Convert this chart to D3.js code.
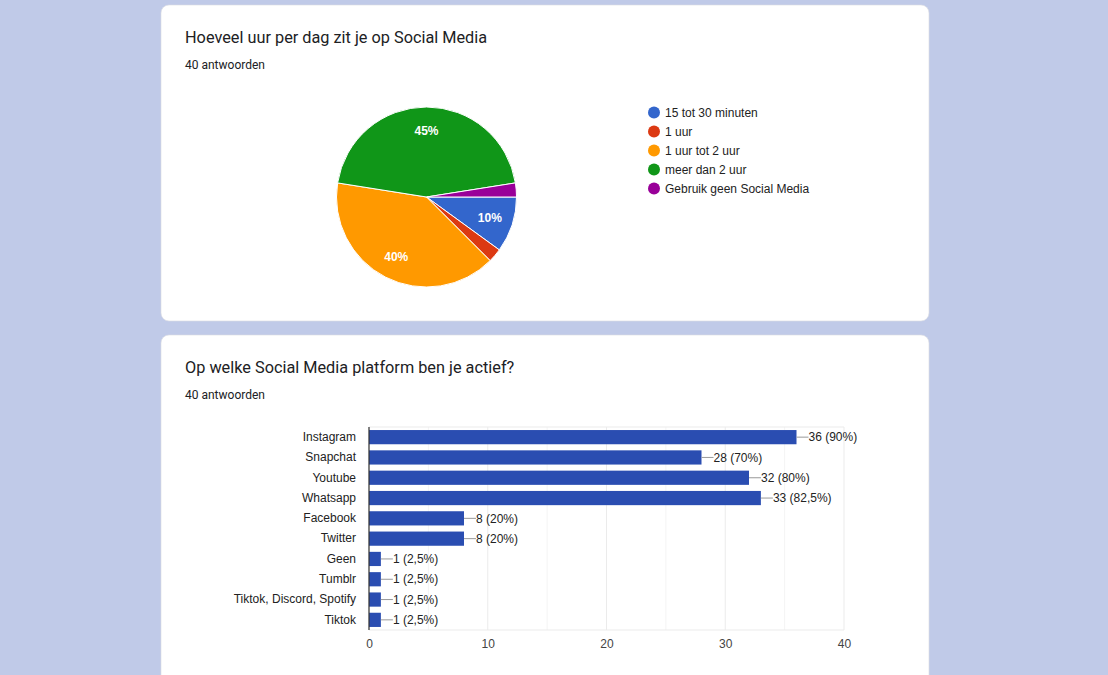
<!DOCTYPE html>
<html><head><meta charset="utf-8">
<script src="https://cdn.jsdelivr.net/npm/d3@7"></script>
<style>
html,body{margin:0;padding:0;background:#c0cae8;}
svg{display:block;}
</style></head>
<body>
<svg id="c" width="1108" height="675"></svg>
<script>
// Pie data
const pieTitle = "Hoeveel uur per dag zit je op Social Media";
const pieCount = "40 antwoorden";
const pieCategories = ["15 tot 30 minuten", "1 uur", "1 uur tot 2 uur", "meer dan 2 uur", "Gebruik geen Social Media"];
const pieValues = [4, 1, 16, 18, 1];
const pieColors = ["#3366cc", "#dc3912", "#ff9900", "#109618", "#990099"];

// Bar data
const barTitle = "Op welke Social Media platform ben je actief?";
const barCount = "40 antwoorden";
const barCategories = ["Instagram", "Snapchat", "Youtube", "Whatsapp", "Facebook", "Twitter", "Geen", "Tumblr", "Tiktok, Discord, Spotify", "Tiktok"];
const barValues = [36, 28, 32, 33, 8, 8, 1, 1, 1, 1];
const barLabels = ["36 (90%)", "28 (70%)", "32 (80%)", "33 (82,5%)", "8 (20%)", "8 (20%)", "1 (2,5%)", "1 (2,5%)", "1 (2,5%)", "1 (2,5%)"];
const barTicks = [0, 10, 20, 30, 40];

(function () {
const svg = d3.select("#c");

// cards
svg.append("rect").attr("x", 161).attr("y", 5).attr("width", 768).attr("height", 316).attr("rx", 8).attr("fill", "#fff").attr("stroke", "#dadce0").attr("stroke-width", 0.6);
svg.append("rect").attr("x", 161).attr("y", 335).attr("width", 768).attr("height", 360).attr("rx", 8).attr("fill", "#fff").attr("stroke", "#dadce0").attr("stroke-width", 0.6);

function header(y, title, count) {
  svg.append("text").attr("x", 185).attr("y", y).text(title)
    .attr("font-family", "Roboto, 'Open Sans', sans-serif").attr("font-size", 16.3).attr("fill", "#202124");
  svg.append("text").attr("x", 185).attr("y", y + 26).text(count)
    .attr("font-family", "Roboto, sans-serif").attr("font-size", 12).attr("fill", "#202124");
}
header(43, pieTitle, pieCount);
header(373, barTitle, barCount);

// Pie
const cx = 426.5, cy = 197, r = 90;
const pie = d3.pie().sort(null).value(d => d).startAngle(Math.PI / 2).endAngle(Math.PI / 2 + 2 * Math.PI);
const arcs = pie(pieValues);
const arc = d3.arc().innerRadius(0).outerRadius(r);
const g = svg.append("g").attr("transform", `translate(${cx},${cy})`);
g.selectAll("path").data(arcs).join("path")
  .attr("d", arc).attr("fill", (d, i) => pieColors[i]).attr("stroke", "#fff").attr("stroke-width", 1);
const labelArc = d3.arc().innerRadius(r * 0.74).outerRadius(r * 0.74);
const total = d3.sum(pieValues);
g.selectAll("text").data(arcs.filter(d => d.value / total >= 0.05)).join("text")
  .attr("transform", d => `translate(${labelArc.centroid(d)})`)
  .attr("text-anchor", "middle").attr("dy", "0.35em")
  .attr("font-family", "Arial, 'Liberation Sans', sans-serif").attr("font-size", 12).attr("font-weight", "bold")
  .attr("fill", "#fff")
  .text(d => Math.round(d.value / total * 100) + "%");

// legend
const leg = svg.append("g").attr("transform", "translate(654,112.5)");
pieCategories.forEach((c, i) => {
  const row = leg.append("g").attr("transform", `translate(0,${i * 19})`);
  row.append("circle").attr("r", 6).attr("fill", pieColors[i]);
  row.append("text").attr("x", 11).attr("dy", "0.35em").text(c)
    .attr("font-family", "Arial, 'Liberation Sans', sans-serif").attr("font-size", 12).attr("fill", "#222");
});

// Bar chart
const x0 = 369, x1 = 844, yTop = 427, yBot = 630;
const x = d3.scaleLinear().domain([0, 40]).range([x0, x1]);
const y = d3.scaleBand().domain(barCategories).range([yTop, yBot]).paddingInner(0.3).paddingOuter(0.15);
const bg = svg.append("g");
// minor grid
d3.range(5, 40, 10).forEach(v => {
  bg.append("line").attr("x1", x(v)).attr("x2", x(v)).attr("y1", yTop).attr("y2", yBot).attr("stroke", "#f4f4f4");
});
barTicks.forEach(v => {
  bg.append("line").attr("x1", x(v)).attr("x2", x(v)).attr("y1", yTop).attr("y2", yBot).attr("stroke", "#ebebeb");
});
bg.append("line").attr("x1", x0).attr("x2", x1).attr("y1", yTop).attr("y2", yTop).attr("stroke", "#ebebeb");
bg.append("line").attr("x1", x0).attr("x2", x1).attr("y1", yBot).attr("y2", yBot).attr("stroke", "#ebebeb");

bg.selectAll("rect.bar").data(barValues).join("rect").attr("class", "bar")
  .attr("x", x(0)).attr("y", (d, i) => y(barCategories[i]))
  .attr("width", d => x(d) - x(0)).attr("height", y.bandwidth()).attr("fill", "#2a4db1");

bg.append("line").attr("x1", x0).attr("x2", x0).attr("y1", yTop).attr("y2", yBot).attr("stroke", "#333").attr("stroke-width", 1.2);

// value labels with leader lines
barValues.forEach((v, i) => {
  const yc = y(barCategories[i]) + y.bandwidth() / 2;
  bg.append("line").attr("x1", x(v)).attr("x2", x(v) + 12).attr("y1", yc).attr("y2", yc).attr("stroke", "#999");
  bg.append("text").attr("x", x(v) + 12).attr("y", yc).attr("dy", "0.35em").text(barLabels[i])
    .attr("font-family", "Arial, 'Liberation Sans', sans-serif").attr("font-size", 12).attr("fill", "#222");
});

// category labels
const yAxis = d3.axisLeft(y).tickSize(0).tickPadding(13);
const ya = bg.append("g").attr("transform", `translate(${x0},0)`).call(yAxis);
ya.select(".domain").remove();
ya.selectAll("text").attr("font-family", "Arial, 'Liberation Sans', sans-serif").attr("font-size", 12).attr("fill", "#222");

const xAxis = d3.axisBottom(x).tickValues(barTicks).tickSize(0).tickPadding(9);
const xa = bg.append("g").attr("transform", `translate(0,${yBot})`).call(xAxis);
xa.select(".domain").remove();
xa.selectAll("text").attr("font-family", "Arial, 'Liberation Sans', sans-serif").attr("font-size", 12).attr("fill", "#444");
})();
</script>
</body></html>
